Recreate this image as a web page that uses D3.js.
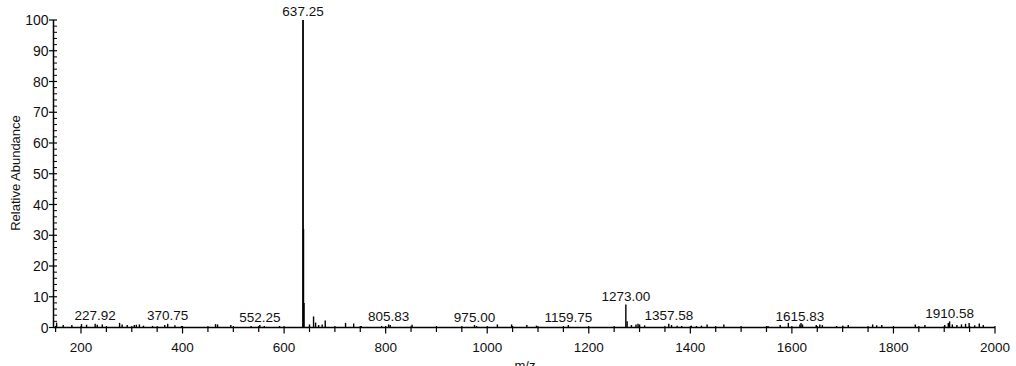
<!DOCTYPE html>
<html>
<head>
<meta charset="utf-8">
<script src="https://cdn.jsdelivr.net/npm/d3@7"></script>
<style>
  body { margin: 0; background: #fff; }
  text { font-family: "Liberation Sans", Arial, sans-serif; fill: #111; }
</style>
</head>
<body>
<svg id="chart" width="1016" height="366"></svg>
<script>
// picos del espectro (m/z, abundancia relativa)
const mz = [152, 165, 182, 201, 211, 227.92, 232, 242, 276, 281, 291, 305, 309, 315, 323, 341, 365, 370.75, 385, 398,
  465, 469, 495, 535, 552.25, 561, 591,
  637.25, 638.25, 639.25, 650, 658, 662, 668, 675, 681,
  721, 737, 752, 792, 805.83, 809, 852, 975.00, 979, 1020, 1048, 1078, 1097, 1159.75,
  1273.00, 1275.5, 1284, 1293, 1297, 1300, 1310, 1357.58, 1363, 1374, 1383, 1402, 1412, 1422, 1433, 1466,
  1553, 1577, 1593, 1615.83, 1618, 1621, 1648, 1655, 1660, 1688, 1700, 1711, 1759, 1767, 1777,
  1843, 1862, 1901, 1908, 1910.58, 1916, 1925, 1934, 1942, 1949, 1960, 1969, 1977];
const abund = [1.6, 0.8, 0.8, 1.1, 0.9, 1.2, 0.9, 1.0, 1.5, 1.0, 0.8, 0.8, 0.9, 1.0, 0.6, 0.5, 0.8, 1.2, 0.7, 0.5,
  1.1, 1.0, 0.8, 0.5, 0.8, 0.5, 0.5,
  100, 32, 8, 1.0, 3.6, 1.6, 0.8, 1.0, 2.3,
  1.5, 1.3, 0.5, 0.5, 1.0, 0.8, 0.9, 0.8, 0.5, 1.0, 1.0, 0.8, 0.6, 0.8,
  7.5, 2.0, 0.8, 1.0, 1.2, 1.0, 0.7, 1.2, 0.8, 0.6, 0.5, 0.6, 0.5, 0.6, 1.0, 1.0,
  0.5, 0.8, 1.5, 1.0, 1.5, 1.0, 0.8, 1.0, 0.8, 0.5, 0.6, 0.8, 1.0, 0.7, 0.8,
  1.0, 0.8, 0.8, 1.5, 2.0, 1.0, 0.8, 1.0, 1.2, 1.5, 0.7, 1.3, 0.8];
// picos etiquetados
const etiquetas = [227.92, 370.75, 552.25, 637.25, 805.83, 975.00, 1159.75, 1273.00, 1357.58, 1615.83, 1910.58];

const xTicks = [200, 400, 600, 800, 1000, 1200, 1400, 1600, 1800, 2000];
const yTicks = [0, 10, 20, 30, 40, 50, 60, 70, 80, 90, 100];

const svg = d3.select("#chart");
const x = d3.scaleLinear().domain([150, 2000]).range([55.6, 995]);
const y = d3.scaleLinear().domain([0, 100]).range([327.5, 20]);

const peaks = mz.map((m, i) => ({ mz: m, ab: abund[i] }));

// picos
svg.append("g").selectAll("line").data(peaks).enter().append("line")
  .attr("x1", d => x(d.mz)).attr("x2", d => x(d.mz))
  .attr("y1", y(0)).attr("y2", d => y(d.ab))
  .attr("stroke", "#000")
  .attr("stroke-width", d => d.ab > 50 ? 1.8 : 1.4);

// eje x
const axX = svg.append("g");
axX.append("line").attr("x1", 53.5).attr("x2", x(2000))
  .attr("y1", y(0)).attr("y2", y(0)).attr("stroke", "#000").attr("stroke-width", 1.5);
const minX = d3.range(150, 2001, 50).filter(v => v % 200 !== 0);
axX.selectAll("line.min").data(minX).enter().append("line").attr("class", "min")
  .attr("x1", d => x(d)).attr("x2", d => x(d))
  .attr("y1", y(0) - 1.5).attr("y2", y(0) + 4.5).attr("stroke", "#000").attr("stroke-width", 1.2);
axX.selectAll("line.maj").data(xTicks).enter().append("line").attr("class", "maj")
  .attr("x1", d => x(d)).attr("x2", d => x(d))
  .attr("y1", y(0) - 1.5).attr("y2", y(0) + 6).attr("stroke", "#000").attr("stroke-width", 1.2);
axX.selectAll("text").data(xTicks).enter().append("text")
  .attr("x", d => x(d)).attr("y", 352)
  .attr("text-anchor", "middle").style("font-size", "13.5px")
  .text(d => d);

// eje y
const axY = svg.append("g");
axY.append("line").attr("x1", 53.5).attr("x2", 53.5)
  .attr("y1", y(0)).attr("y2", y(100)).attr("stroke", "#000").attr("stroke-width", 1.5);
const minY = d3.range(0, 101, 2).filter(v => v % 10 !== 0);
axY.selectAll("line.min").data(minY).enter().append("line").attr("class", "min")
  .attr("x1", 53.5).attr("x2", 57)
  .attr("y1", d => y(d)).attr("y2", d => y(d)).attr("stroke", "#000").attr("stroke-width", 1);
axY.selectAll("line.maj").data(yTicks).enter().append("line").attr("class", "maj")
  .attr("x1", 49).attr("x2", 57)
  .attr("y1", d => y(d)).attr("y2", d => y(d)).attr("stroke", "#000").attr("stroke-width", 1.2);
axY.selectAll("text").data(yTicks).enter().append("text")
  .attr("x", 48.5).attr("y", d => y(d) + 5)
  .attr("text-anchor", "end").style("font-size", "14px")
  .text(d => d);

// etiquetas de picos
svg.append("g").selectAll("text").data(peaks.filter(p => etiquetas.includes(p.mz))).enter().append("text")
  .attr("x", d => x(d.mz)).attr("y", d => y(d.ab) - (d.ab > 50 ? 4 : 3.5))
  .attr("text-anchor", "middle").style("font-size", "13.5px")
  .text(d => d.mz.toFixed(2));

// titulos de ejes
svg.append("text").attr("transform", "translate(20,173) rotate(-90)")
  .attr("text-anchor", "middle").style("font-size", "13px").text("Relative Abundance");
svg.append("text").attr("x", 525).attr("y", 370)
  .attr("text-anchor", "middle").style("font-size", "13px").text("m/z");
</script>
</body>
</html>
